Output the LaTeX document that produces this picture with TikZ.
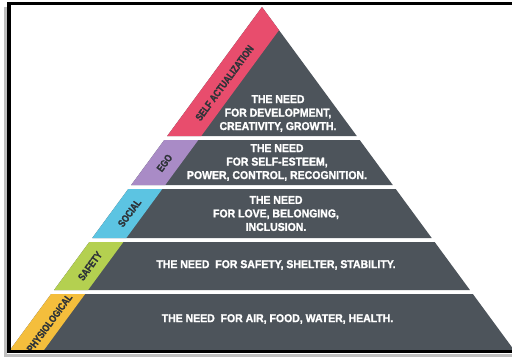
\documentclass[tikz,border=0pt]{standalone}
\usepackage{fontspec}
\newfontfamily\mainf{Liberation Sans}[FakeStretch=0.92,BoldFeatures={FakeBold=1.5}]
\newfontfamily\labf{Liberation Sans}[FakeStretch=0.8,BoldFeatures={FakeBold=1.5}]
\definecolor{tierdark}{HTML}{4D545B}
\definecolor{cpink}{HTML}{E84D6D}
\definecolor{cpurple}{HTML}{A98BC6}
\definecolor{ccyan}{HTML}{5CC4E2}
\definecolor{cgreen}{HTML}{B4D050}
\definecolor{cyellow}{HTML}{F4BE3C}
\definecolor{labtext}{HTML}{2E3338}
\tikzset{
  tier/.style={fill=tierdark, draw=none},
  needtext/.style={text=white, font=\mainf\bfseries\fontsize{11.4}{13.5}\selectfont, align=center, inner sep=0pt},
  bandlabel/.style={text=labtext, font=\labf\bfseries\fontsize{10.4}{11}\selectfont, rotate=53.7, inner sep=0pt},
  frameline/.style={black, line width=3.2pt},
  shadowline/.style={black!25, line width=2.5pt}
}
\begin{document}
\begin{tikzpicture}[x=1pt, y=-1pt]
\useasboundingbox (0,0) rectangle (512,357);
\clip (0,0) rectangle (512,357);
\fill[white] (0,0) rectangle (512,357);
% tier 1
\fill[tier] (262,7) -- (356.78,136) -- (167.22,136) -- cycle;
\fill[cpink] (262,7) -- (279,30.14) -- (201.22,136) -- (167.22,136) -- cycle;
% tier 2
\fill[tier] (164.29,140) -- (359.71,140) -- (392.78,185) -- (131.22,185) -- cycle;
\fill[cpurple] (164.29,140) -- (198.29,140) -- (165.22,185) -- (131.22,185) -- cycle;
% tier 3
\fill[tier] (128.28,189) -- (395.72,189) -- (431.72,238) -- (92.28,238) -- cycle;
\fill[ccyan] (128.28,189) -- (162.28,189) -- (126.28,238) -- (92.28,238) -- cycle;
% tier 4
\fill[tier] (89.35,242) -- (434.65,242) -- (469.92,290) -- (54.08,290) -- cycle;
\fill[cgreen] (89.35,242) -- (123.35,242) -- (88.08,290) -- (54.08,290) -- cycle;
% tier 5
\fill[tier] (51.14,294) -- (472.86,294) -- (514,350) -- (10,350) -- cycle;
\fill[cyellow] (51.14,294) -- (85.14,294) -- (44,350) -- (10,350) -- cycle;
% texts
\node[needtext] (t1) at (278,113.5) {THE NEED\\FOR DEVELOPMENT,\\CREATIVITY, GROWTH.};
\node[needtext] (t2) at (277,162.5) {THE NEED\\FOR SELF-ESTEEM,\\POWER, CONTROL, RECOGNITION.};
\node[needtext] (t3) at (276,213.5) {THE NEED\\FOR LOVE, BELONGING,\\INCLUSION.};
\node[needtext] (t4) at (276,265) {THE NEED\ \ FOR SAFETY, SHELTER, STABILITY.};
\node[needtext] (t5) at (277.5,319) {THE NEED\ \ FOR AIR, FOOD, WATER, HEALTH.};
% band labels
\node[bandlabel] (l1) at (224.5,83) {SELF ACTUALIZATION};
\node[bandlabel] (l2) at (164.5,163) {EGO};
\node[bandlabel] (l3) at (129.5,213) {SOCIAL};
\node[bandlabel] (l4) at (90,266) {SAFETY};
\node[bandlabel] (l5) at (49.5,323) {PHYSIOLOGICAL};
% frame
\draw[shadowline] (5.5,7) -- (5.5,355.5) -- (512,355.5);
\draw[frameline] (512,3.7) -- (9,3.7) -- (9,351.7) -- (512,351.7);
\end{tikzpicture}
\end{document}
